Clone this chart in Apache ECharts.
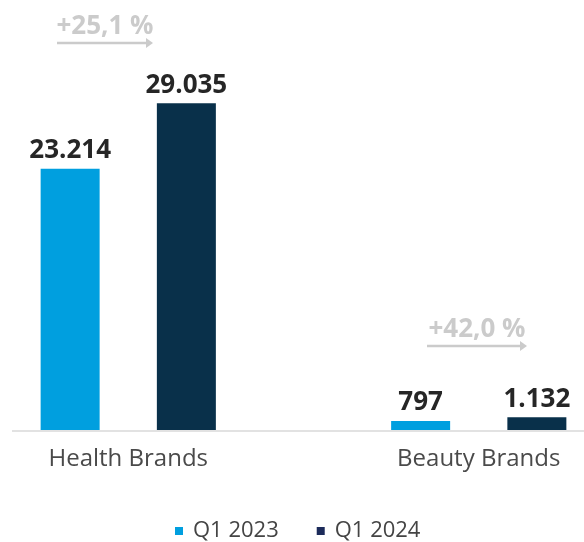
<!DOCTYPE html>
<html>
<head>
<meta charset="utf-8">
<script src="https://cdn.jsdelivr.net/npm/echarts@6/dist/echarts.min.js"></script>
<style>
  html, body { margin: 0; padding: 0; background: #fff; }
  #chart { width: 584px; height: 542px; }
</style>
</head>
<body>
<div id="chart"></div>
<script>
const categories = ["Health Brands", "Beauty Brands"];
const seriesNames = ["Q1 2023", "Q1 2024"];
const q1_2023 = [23214, 797];
const q1_2024 = [29035, 1132];
const growthLabels = ["+25,1 %", "+42,0 %"];

const FONT = "Open Sans";
const fmt = (v) => String(v).replace(/\B(?=(\d{3})+(?!\d))/g, ".");

const valueLabel = {
  show: true,
  position: "top",
  distance: 5,
  formatter: (p) => fmt(p.value),
  fontFamily: FONT,
  fontWeight: "bold",
  fontSize: 26,
  color: "#262626",
};

// growth annotation: text + arrow
function growth(text, x1, x2, yText, yLine) {
  return {
    type: "group",
    children: [
      {
        type: "text",
        x: (x1 + x2) / 2,
        y: yText,
        style: {
          text: text,
          fontFamily: FONT,
          fontWeight: "bold",
          fontSize: 26,
          fill: "#cbcbcb",
          align: "center",
          verticalAlign: "middle",
        },
      },
      {
        type: "line",
        shape: { x1: x1, y1: yLine, x2: x2 - 4, y2: yLine },
        style: { stroke: "#cbcbcb", lineWidth: 2.5 },
      },
      {
        type: "polygon",
        shape: { points: [[x2 - 7, yLine - 5], [x2, yLine], [x2 - 7, yLine + 5]] },
        style: { fill: "#cbcbcb" },
      },
    ],
  };
}

const chart = echarts.init(document.getElementById("chart"));
chart.setOption({
  animation: false,
  grid: { left: -47, right: -70, top: 70, bottom: 112, outerBoundsMode: "none", containLabel: false },
  legend: {
    top: 515,
    left: 170,
    icon: "rect",
    itemWidth: 8,
    itemHeight: 8,
    itemGap: 38,
    textStyle: { fontFamily: FONT, fontSize: 22, color: "#444", padding: [0, 0, 0, 5] },
    data: [
      { name: seriesNames[0], itemStyle: { color: "#009fdf" } },
      { name: seriesNames[1], itemStyle: { color: "#1c2b5a" } },
    ],
  },
  xAxis: {
    type: "category",
    data: categories,
    axisLine: { show: false },
    axisTick: { show: false },
    axisLabel: { fontFamily: FONT, fontSize: 24, color: "#4a4a4a", margin: 17 },
  },
  yAxis: {
    type: "value",
    min: 0,
    max: 32000,
    show: false,
    splitLine: { show: false },
  },
  series: [
    {
      name: seriesNames[0],
      type: "bar",
      data: q1_2023,
      barWidth: 59,
      barGap: "97%",
      itemStyle: { color: "#009fdf" },
      label: valueLabel,
    },
    {
      name: seriesNames[1],
      type: "bar",
      data: q1_2024,
      barWidth: 59,
      itemStyle: { color: "#09304a" },
      label: valueLabel,
    },
  ],
  graphic: [
    {
      type: "line",
      shape: { x1: 12, y1: 431, x2: 584, y2: 431 },
      style: { stroke: "#e2e2e2", lineWidth: 2 },
    },
    growth(growthLabels[0], 57, 153, 27, 43),
    growth(growthLabels[1], 427, 527, 330, 346),
  ],
});
window.addEventListener("resize", () => chart.resize());
</script>
</body>
</html>
